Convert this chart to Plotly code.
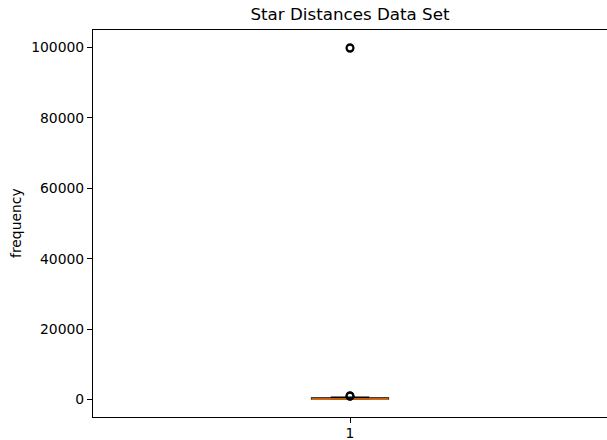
import plotly.graph_objects as go

# Summary statistics of the star distances (light years)
positions = [1]
q1 = [30]
median = [150]
q3 = [450]
lower_fence = [0]
upper_fence = [700]
outliers = [850, 950, 1100, 99800, 100000]

box_width = 0.15
tick_font = dict(family="DejaVu Sans", size=13.9, color="black")

fig = go.Figure()

fig.add_trace(go.Box(
    x=positions, q1=q1, median=median, q3=q3,
    lowerfence=lower_fence, upperfence=upper_fence,
    width=box_width, whiskerwidth=0.5,
    boxpoints=False,
    fillcolor="rgba(0,0,0,0)",
    line=dict(color="black", width=1.1),
    showlegend=False, hoverinfo="skip",
))

# Orange median line across the box
for p, m in zip(positions, median):
    fig.add_trace(go.Scatter(
        x=[p - box_width / 2, p + box_width / 2], y=[m, m],
        mode="lines", line=dict(color="#ff7f0e", width=1.5),
        showlegend=False, hoverinfo="skip",
    ))

# Fliers
fig.add_trace(go.Scatter(
    x=[positions[0]] * len(outliers), y=outliers,
    mode="markers",
    marker=dict(symbol="circle-open", size=7, color="black", line=dict(width=1.8)),
    showlegend=False, hoverinfo="skip",
))

fig.update_layout(
    width=607, height=440,
    margin=dict(l=93, r=0, t=30, b=23, autoexpand=False),
    paper_bgcolor="white", plot_bgcolor="white",
    title=dict(text="Star Distances Data Set", x=0.5, xref="paper", xanchor="center",
               y=1 - 14 / 440, yref="container", yanchor="middle",
               font=dict(family="DejaVu Sans", size=16.7, color="black")),
    font=tick_font,
)

fig.update_xaxes(
    range=[0.5, 1.5], tickvals=positions, ticktext=["1"],
    showgrid=False, zeroline=False,
    showline=True, linecolor="black", linewidth=1.1, mirror=True,
    ticks="outside", ticklen=5, tickwidth=1.1, tickcolor="black",
    ticklabelstandoff=-2,
    tickfont=tick_font, automargin=False,
)

fig.update_yaxes(
    range=[-5000, 105000], tickvals=[0, 20000, 40000, 60000, 80000, 100000],
    tickformat="d",
    showgrid=False, zeroline=False,
    showline=True, linecolor="black", linewidth=1.1,
    ticks="outside", ticklen=5, tickwidth=1.1, tickcolor="black",
    tickfont=tick_font, automargin=False,
)

fig.add_annotation(
    text="frequency", xref="paper", yref="paper", x=0, y=0.5,
    xanchor="center", yanchor="middle", xshift=-77.5, textangle=-90,
    showarrow=False, font=tick_font,
)

fig.write_html("out.html")
